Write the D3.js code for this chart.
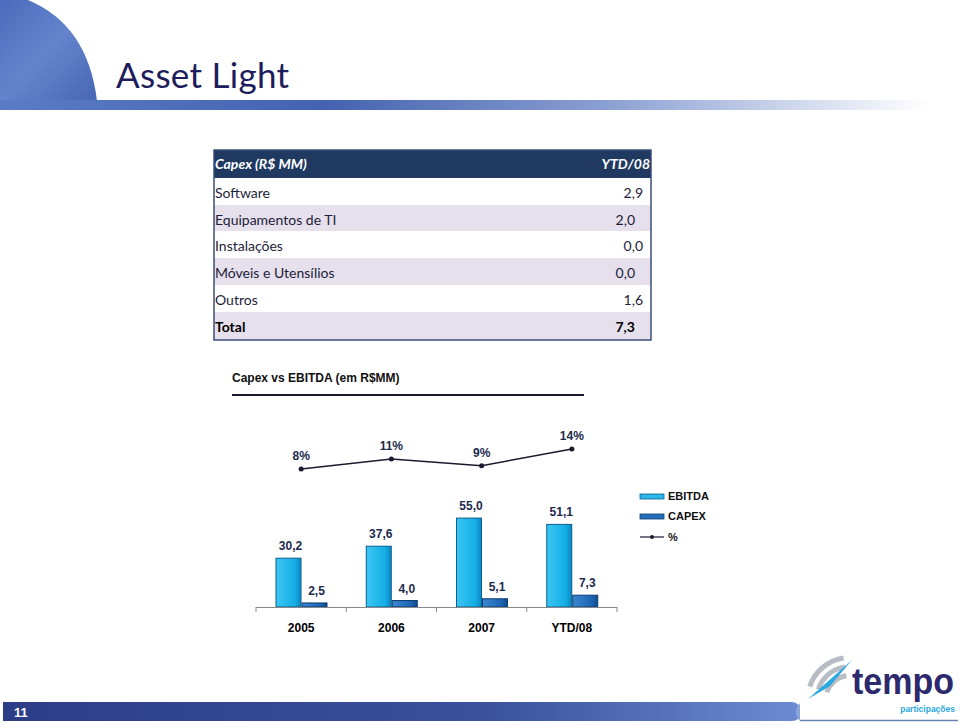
<!DOCTYPE html>
<html>
<head>
<meta charset="utf-8">
<script src="https://cdn.jsdelivr.net/npm/d3@7"></script>
<style>
  html, body { margin: 0; padding: 0; background: #fff; }
  svg { display: block; }
</style>
</head>
<body>
<div class="chart-container"></div>
<script>
// Table data
const tableHeader = ["Capex (R$ MM)", "YTD/08"];
const tableLabels = ["Software", "Equipamentos de TI", "Instalações", "Móveis e Utensílios", "Outros", "Total"];
const tableValues = ["2,9", "2,0", "0,0", "0,0", "1,6", "7,3"];

// Chart data
const years = ["2005", "2006", "2007", "YTD/08"];
const ebitda = [30.2, 37.6, 55.0, 51.1];
const capex = [2.5, 4.0, 5.1, 7.3];
const pct = [8, 11, 9, 14];
const seriesNames = ["EBITDA", "CAPEX", "%"];

const fmt = v => v.toFixed(1).replace(".", ",");

const width = 960;
const height = 725;

const svg = d3.select('.chart-container').append("svg")
    .attr("width", width)
    .attr("height", height);

const defs = svg.append("defs");

// gradients
const topGrad = defs.append("linearGradient").attr("id", "topGrad");
topGrad.append("stop").attr("offset", "0%").attr("stop-color", "#5a7cc6");
topGrad.append("stop").attr("offset", "35%").attr("stop-color", "#4462b0");
topGrad.append("stop").attr("offset", "65%").attr("stop-color", "#8a9fd2");
topGrad.append("stop").attr("offset", "100%").attr("stop-color", "#ffffff");

const cornerGrad = defs.append("linearGradient").attr("id", "cornerGrad")
    .attr("x1", 0).attr("y1", 0).attr("x2", 1).attr("y2", 1);
cornerGrad.append("stop").attr("offset", "0%").attr("stop-color", "#4b6cbc");
cornerGrad.append("stop").attr("offset", "50%").attr("stop-color", "#6384cc");
cornerGrad.append("stop").attr("offset", "100%").attr("stop-color", "#4766b4");

const botGrad = defs.append("linearGradient").attr("id", "botGrad");
botGrad.append("stop").attr("offset", "0%").attr("stop-color", "#2c3d88");
botGrad.append("stop").attr("offset", "60%").attr("stop-color", "#3a509c");
botGrad.append("stop").attr("offset", "100%").attr("stop-color", "#6c8bd2");

const ebGrad = defs.append("linearGradient").attr("id", "ebGrad");
ebGrad.append("stop").attr("offset", "0%").attr("stop-color", "#3cc6f2");
ebGrad.append("stop").attr("offset", "75%").attr("stop-color", "#14aee6");
ebGrad.append("stop").attr("offset", "100%").attr("stop-color", "#0b86c0");

const cpGrad = defs.append("linearGradient").attr("id", "cpGrad");
cpGrad.append("stop").attr("offset", "0%").attr("stop-color", "#3a86d0");
cpGrad.append("stop").attr("offset", "75%").attr("stop-color", "#1e66b4");
cpGrad.append("stop").attr("offset", "100%").attr("stop-color", "#124a8a");

// Header decoration
svg.append("path")
    .attr("d", "M0,0 L28,0 Q88,25 97,101 L0,101 Z")
    .attr("fill", "url(#cornerGrad)");
svg.append("rect")
    .attr("x", 0).attr("y", 100).attr("width", 930).attr("height", 10)
    .attr("fill", "url(#topGrad)");

svg.append("text")
    .attr("x", 116).attr("y", 88)
    .attr("font-family", "Lato, 'Open Sans', sans-serif")
    .attr("font-size", 35)
    .attr("fill", "#1d1d5c")
    .attr("textLength", 173)
    .text("Asset Light");

// Table
const tx = 214, tw = 437;
const headerH = 28;
const rowY = [178, 205, 231, 258, 285, 312, 340];
const tbl = svg.append("g").attr("font-family", "Lato, 'Open Sans', sans-serif").attr("font-size", 14);

tbl.append("rect")
    .attr("x", tx).attr("y", 150).attr("width", tw).attr("height", headerH)
    .attr("fill", "#1f3960");
tbl.append("text")
    .attr("x", tx + 1).attr("y", 169)
    .attr("fill", "#fff").attr("font-style", "italic").attr("font-weight", "bold")
    .text(tableHeader[0]);
tbl.append("text")
    .attr("x", tx + tw - 1).attr("y", 169)
    .attr("text-anchor", "end")
    .attr("fill", "#fff").attr("font-style", "italic").attr("font-weight", "bold")
    .text(tableHeader[1]);

tbl.selectAll("rect.row")
    .data(tableLabels)
    .enter()
    .append("rect")
    .attr("class", "row")
    .attr("x", tx).attr("y", (d, i) => rowY[i])
    .attr("width", tw).attr("height", (d, i) => rowY[i + 1] - rowY[i])
    .attr("fill", (d, i) => i % 2 === 0 ? "#ffffff" : "#e5e0ec");

tbl.selectAll("text.lbl")
    .data(tableLabels)
    .enter()
    .append("text")
    .attr("class", "lbl")
    .attr("x", tx + 1)
    .attr("y", (d, i) => rowY[i] + 20)
    .attr("fill", (d, i) => i === tableLabels.length - 1 ? "#000" : "#1d1d3a")
    .attr("font-weight", (d, i) => i === tableLabels.length - 1 ? "bold" : "normal")
    .text(d => d);

tbl.selectAll("text.val")
    .data(tableValues)
    .enter()
    .append("text")
    .attr("class", "val")
    .attr("x", (d, i) => i % 2 === 0 ? 643 : 635)
    .attr("y", (d, i) => rowY[i] + 20)
    .attr("text-anchor", "end")
    .attr("fill", (d, i) => i === tableValues.length - 1 ? "#000" : "#1d1d3a")
    .attr("font-weight", (d, i) => i === tableValues.length - 1 ? "bold" : "normal")
    .text(d => d);

tbl.append("rect")
    .attr("x", tx).attr("y", 150).attr("width", tw).attr("height", 190)
    .attr("fill", "none").attr("stroke", "#3d4f7a").attr("stroke-width", 1.5);

// Chart title
const chart = svg.append("g").attr("font-family", "'Liberation Sans', Arial, sans-serif");
chart.append("text")
    .attr("x", 232).attr("y", 382)
    .attr("font-size", 12).attr("font-weight", "bold").attr("fill", "#111")
    .text("Capex vs EBITDA (em R$MM)");
chart.append("line")
    .attr("x1", 232).attr("x2", 584).attr("y1", 395).attr("y2", 395)
    .attr("stroke", "#1a1a2e").attr("stroke-width", 2);

// Scales
const x = d3.scaleBand().domain(years).range([256, 617]).padding(0);
const y = d3.scaleLinear().domain([0, 60]).range([607, 510]);
const yp = d3.scaleLinear().domain([8, 14]).range([469, 449]);
const barW = 25;

// Bars
chart.selectAll("rect.eb")
    .data(ebitda)
    .enter()
    .append("rect")
    .attr("class", "eb")
    .attr("x", (d, i) => x(years[i]) + 20)
    .attr("y", d => y(d))
    .attr("width", barW)
    .attr("height", d => y(0) - y(d))
    .attr("fill", "url(#ebGrad)")
    .attr("stroke", "#0c5e8e").attr("stroke-width", 1);

chart.selectAll("rect.cp")
    .data(capex)
    .enter()
    .append("rect")
    .attr("class", "cp")
    .attr("x", (d, i) => x(years[i]) + 20 + barW + 1)
    .attr("y", d => y(d))
    .attr("width", barW)
    .attr("height", d => y(0) - y(d))
    .attr("fill", "url(#cpGrad)")
    .attr("stroke", "#0d3c72").attr("stroke-width", 1);

// Bar labels
chart.selectAll("text.ebl")
    .data(ebitda)
    .enter()
    .append("text")
    .attr("class", "ebl")
    .attr("x", (d, i) => x(years[i]) + 20 + barW / 2 + 2)
    .attr("y", d => y(d) - 8)
    .attr("text-anchor", "middle")
    .attr("font-size", 12).attr("font-weight", "bold").attr("fill", "#1c2a4e")
    .text(d => fmt(d));

chart.selectAll("text.cpl")
    .data(capex)
    .enter()
    .append("text")
    .attr("class", "cpl")
    .attr("x", (d, i) => x(years[i]) + 20 + barW + 1 + barW / 2 + 2)
    .attr("y", d => y(d) - 8)
    .attr("text-anchor", "middle")
    .attr("font-size", 12).attr("font-weight", "bold").attr("fill", "#1c2a4e")
    .text(d => fmt(d));

// X axis
const xAxis = chart.append("g")
    .attr("transform", "translate(0,607)")
    .call(d3.axisBottom(x).tickSize(0).tickPadding(16));
xAxis.select(".domain").attr("stroke", "#888").attr("d", "M256,0.5H617");
xAxis.selectAll("text")
    .attr("font-family", "'Liberation Sans', Arial, sans-serif")
    .attr("font-size", 12).attr("font-weight", "bold").attr("fill", "#000");
xAxis.selectAll("line.sep")
    .data(d3.range(years.length + 1))
    .enter()
    .append("line")
    .attr("class", "sep")
    .attr("x1", i => i < years.length ? x(years[i]) : x.range()[1])
    .attr("x2", i => i < years.length ? x(years[i]) : x.range()[1])
    .attr("y1", 0).attr("y2", 5)
    .attr("stroke", "#888");

// Percentage line
const line = d3.line()
    .x((d, i) => x(years[i]) + x.bandwidth() / 2)
    .y(d => yp(d));

chart.append("path")
    .datum(pct)
    .attr("d", line)
    .attr("fill", "none")
    .attr("stroke", "#1a1a2e").attr("stroke-width", 1.5);

chart.selectAll("circle.pt")
    .data(pct)
    .enter()
    .append("circle")
    .attr("class", "pt")
    .attr("cx", (d, i) => x(years[i]) + x.bandwidth() / 2)
    .attr("cy", d => yp(d))
    .attr("r", 2.5)
    .attr("fill", "#1a1a2e");

chart.selectAll("text.pl")
    .data(pct)
    .enter()
    .append("text")
    .attr("class", "pl")
    .attr("x", (d, i) => x(years[i]) + x.bandwidth() / 2)
    .attr("y", d => yp(d) - 9)
    .attr("text-anchor", "middle")
    .attr("font-size", 12).attr("font-weight", "bold").attr("fill", "#1c2a4e")
    .text(d => d + "%");

// Legend
const legend = chart.append("g").attr("id", "legend");
const legY = [496, 516, 537];
legend.append("rect").attr("x", 640).attr("y", legY[0] - 2).attr("width", 24).attr("height", 5)
    .attr("fill", "#2ab8ea").attr("stroke", "#0c5e8e").attr("stroke-width", 0.8);
legend.append("rect").attr("x", 640).attr("y", legY[1] - 2).attr("width", 24).attr("height", 5)
    .attr("fill", "#2470bc").attr("stroke", "#0d3c72").attr("stroke-width", 0.8);
legend.append("line").attr("x1", 640).attr("x2", 664).attr("y1", legY[2]).attr("y2", legY[2])
    .attr("stroke", "#1a1a2e").attr("stroke-width", 1.2);
legend.append("circle").attr("cx", 652).attr("cy", legY[2]).attr("r", 2).attr("fill", "#1a1a2e");
legend.selectAll("text")
    .data(seriesNames)
    .enter()
    .append("text")
    .attr("x", 668)
    .attr("y", (d, i) => legY[i] + 4)
    .attr("font-size", 11).attr("font-weight", "bold").attr("fill", "#111")
    .text(d => d);

// Footer bar
svg.append("path")
    .attr("d", "M3,702 H792 Q800,702 800,712 Q800,721 792,721 H3 Z")
    .attr("fill", "url(#botGrad)");
svg.append("path")
    .attr("d", "M800,703 Q792,712 800,721 Z")
    .attr("fill", "#8aa4dc");
svg.append("line")
    .attr("x1", 800).attr("x2", 958).attr("y1", 720.5).attr("y2", 720.5)
    .attr("stroke", "#6b82b8").attr("stroke-width", 1.5);
svg.append("text")
    .attr("x", 14).attr("y", 717)
    .attr("font-family", "'Liberation Sans', Arial, sans-serif")
    .attr("font-size", 13).attr("font-weight", "bold").attr("fill", "#fff")
    .text("11");

// Logo
const logo = svg.append("g");
const arc = d3.arc();
[[22, 27], [31, 36], [40, 45]].forEach(([r0, r1]) => {
    logo.append("path")
        .attr("transform", "translate(850,700)")
        .attr("d", arc({ innerRadius: r0, outerRadius: r1, startAngle: -1.25, endAngle: -0.15 }))
        .attr("fill", "#b8bcc4");
});
logo.append("path")
    .attr("d", "M808,699 L852,660 L830,686 Z")
    .attr("fill", "#2aa8e0");
logo.append("text")
    .attr("x", 852).attr("y", 694)
    .attr("font-family", "'Liberation Sans', Arial, sans-serif")
    .attr("font-size", 36).attr("font-weight", "bold").attr("fill", "#2c2a6c")
    .attr("textLength", 102).attr("lengthAdjust", "spacingAndGlyphs")
    .text("tempo");
logo.append("text")
    .attr("x", 955).attr("y", 712)
    .attr("text-anchor", "end")
    .attr("font-family", "'Liberation Sans', Arial, sans-serif")
    .attr("font-size", 8.5).attr("font-weight", "bold").attr("fill", "#2aa8e0")
    .text("participações");
</script>
</body>
</html>
